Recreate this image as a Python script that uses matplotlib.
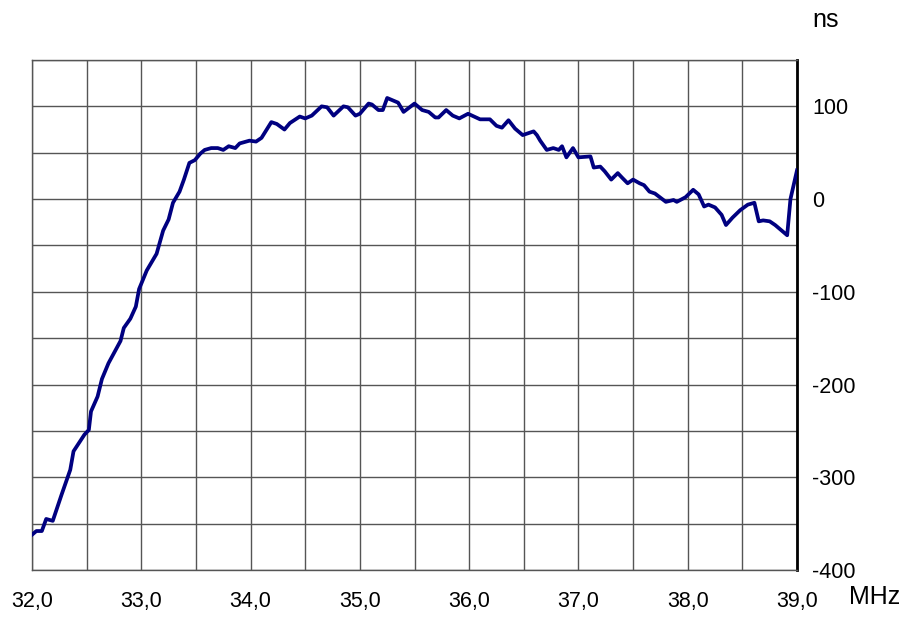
import numpy as np
import matplotlib.pyplot as plt
from matplotlib.ticker import MultipleLocator

plt.rcParams['font.family'] = ['Liberation Sans', 'DejaVu Sans']

# group delay trace
freq = [32.00, 32.04, 32.09, 32.13, 32.19, 32.27, 32.35, 32.38, 32.48, 32.52,
        32.54, 32.60, 32.64, 32.70, 32.81, 32.84, 32.90, 32.95, 32.98, 33.05,
        33.14, 33.20, 33.25, 33.29, 33.35, 33.39, 33.44, 33.49, 33.54, 33.58,
        33.64, 33.70, 33.75, 33.80, 33.86, 33.90, 33.99, 34.05, 34.10, 34.19,
        34.24, 34.31, 34.36, 34.45, 34.50, 34.56, 34.65, 34.70, 34.76, 34.85,
        34.89, 34.96, 35.00, 35.08, 35.11, 35.17, 35.21, 35.25, 35.31, 35.35,
        35.40, 35.50, 35.57, 35.63, 35.69, 35.72, 35.79, 35.85, 35.91, 35.99,
        36.10, 36.19, 36.25, 36.30, 36.36, 36.42, 36.49, 36.59, 36.62, 36.65,
        36.71, 36.77, 36.82, 36.85, 36.89, 36.95, 37.00, 37.11, 37.14, 37.20,
        37.24, 37.30, 37.36, 37.40, 37.45, 37.50, 37.56, 37.60, 37.65, 37.70,
        37.80, 37.87, 37.90, 37.98, 38.05, 38.10, 38.15, 38.19, 38.25, 38.31,
        38.35, 38.41, 38.48, 38.55, 38.61, 38.65, 38.69, 38.75, 38.80, 38.91,
        38.94, 39.00]
delay = [-362, -358, -358, -345, -347, -319, -292, -272, -254, -249,
         -229, -213, -194, -177, -153, -139, -129, -116, -97, -77,
         -59, -34, -22, -4, 8, 21, 39, 42, 49, 53,
         55, 55, 53, 57, 55, 60, 63, 62, 66, 83,
         81, 75, 82, 89, 87, 90, 100, 99, 90, 100,
         99, 90, 92, 103, 102, 96, 96, 109, 106, 104,
         94, 103, 96, 94, 88, 88, 96, 90, 87, 92,
         86, 86, 79, 77, 85, 76, 69, 73, 69, 63,
         53, 55, 53, 57, 45, 55, 45, 46, 34, 35,
         30, 21, 28, 23, 17, 21, 17, 15, 8, 6,
         -3, -1, -3, 2, 10, 5, -8, -6, -9, -17,
         -28, -20, -12, -6, -4, -24, -23, -24, -28, -39,
         0, 31]

xticks = [32, 33, 34, 35, 36, 37, 38, 39]
xtick_labels = ['32,0', '33,0', '34,0', '35,0', '36,0', '37,0', '38,0', '39,0']
yticks = [-400, -300, -200, -100, 0, 100]

fig = plt.figure(figsize=(9.09, 6.19), dpi=100)
ax = fig.add_axes([0.0352, 0.0792, 0.8416, 0.8239])

ax.plot(freq, delay, color='#000080', lw=2.7, solid_joinstyle='round', zorder=3)

ax.set_xlim(32, 39)
ax.set_ylim(-400, 150)
ax.xaxis.set_minor_locator(MultipleLocator(0.5))
ax.yaxis.set_minor_locator(MultipleLocator(50))
ax.set_xticks(xticks)
ax.set_xticklabels(xtick_labels)
ax.set_yticks(yticks)
ax.set_yticklabels([str(v) for v in yticks])
ax.yaxis.tick_right()
ax.tick_params(which='both', length=0)
ax.tick_params(axis='y', pad=11, labelsize=15.5)
ax.tick_params(axis='x', pad=15, labelsize=15.5)
ax.grid(which='both', color='#555555', lw=1)

for s in ['left', 'top', 'bottom']:
    ax.spines[s].set_color('#555555')
    ax.spines[s].set_linewidth(1)
ax.spines['right'].set_color('black')
ax.spines['right'].set_linewidth(2)

fig.text(812 / 909, 1 - 20 / 619, 'ns', fontsize=18, ha='left', va='center')
fig.text(849 / 909, 1 - 597 / 619, 'MHz', fontsize=18, ha='left', va='center')

fig.savefig('out.png', dpi=100)
